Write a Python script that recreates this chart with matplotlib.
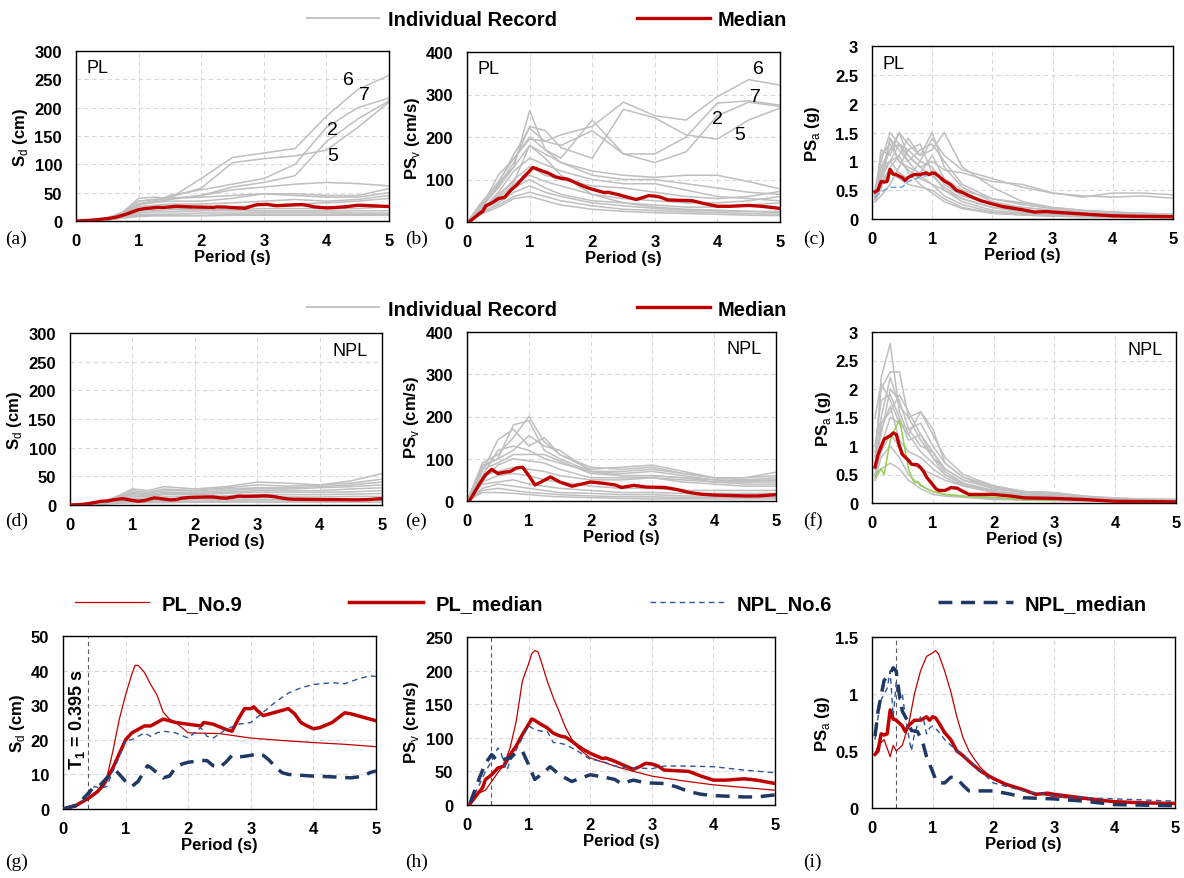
import numpy as np
import matplotlib
matplotlib.use("Agg")
import matplotlib.pyplot as plt
from matplotlib.lines import Line2D
from matplotlib.ticker import FormatStrFormatter

plt.rcParams['font.family'] = ['Liberation Sans', 'DejaVu Sans']
plt.rcParams['mathtext.fontset'] = 'custom'
plt.rcParams['mathtext.rm'] = 'Liberation Sans'
plt.rcParams['mathtext.bf'] = 'Liberation Sans:bold'

# ---------------- data ----------------
# period grids used for the individual records
t_rec = [0, 0.25, 0.5, 0.75, 1.0, 1.25, 1.5, 2.0, 2.5, 3.0, 3.5, 4.0, 4.5, 5.0]
t_psa = [0.05, 0.15, 0.3, 0.45, 0.6, 0.8, 1.0, 1.2, 1.5, 2.0, 2.5, 3.0, 3.5, 4.0, 4.5, 5.0]

# PL individual records
pl_sd_recs = [
    [0, 1, 5, 15, 35, 38, 40, 75, 112, 120, 128, 185, 232, 257],
    [0, 1, 4, 12, 30, 35, 42, 58, 103, 110, 115, 125, 165, 210],
    [0, 1, 5, 14, 30, 35, 45, 55, 65, 75, 100, 165, 200, 217],
    [0, 1, 4, 13, 28, 33, 38, 45, 60, 68, 80, 140, 180, 212],
    [0, 1, 5, 16, 40, 42, 40, 45, 55, 60, 65, 68, 66, 62],
    [0, 1, 5, 15, 35, 38, 40, 42, 45, 48, 48, 45, 45, 57],
    [0, 1, 4, 14, 30, 33, 35, 35, 40, 48, 45, 42, 42, 50],
    [0, 1, 4, 12, 25, 28, 30, 30, 32, 35, 38, 35, 38, 45],
    [0, 1, 3, 10, 20, 22, 22, 22, 25, 28, 30, 32, 35, 40],
    [0, 1, 3, 9, 18, 19, 20, 20, 20, 22, 22, 22, 22, 25],
    [0, 1, 3, 8, 15, 16, 16, 18, 18, 18, 18, 18, 18, 18],
    [0, 1, 2, 7, 12, 12, 12, 14, 14, 15, 15, 15, 14, 14],
    [0, 1, 2, 6, 10, 10, 10, 10, 11, 12, 12, 12, 12, 12],
    [0, 0.5, 2, 5, 8, 9, 9, 9, 10, 10, 10, 10, 10, 10],
]
pl_psv_recs = [
    [0, 45, 95, 150, 195, 190, 205, 225, 282, 250, 240, 295, 335, 322],
    [0, 40, 85, 140, 225, 215, 175, 150, 265, 245, 205, 195, 240, 268],
    [0, 38, 80, 130, 262, 170, 150, 240, 160, 140, 165, 250, 282, 272],
    [0, 35, 90, 160, 220, 190, 180, 215, 160, 160, 200, 280, 285, 275],
    [0, 40, 110, 150, 200, 170, 140, 120, 110, 105, 110, 110, 95, 78],
    [0, 50, 90, 130, 180, 160, 140, 110, 100, 100, 90, 80, 70, 65],
    [0, 30, 70, 120, 150, 135, 120, 100, 90, 90, 75, 60, 55, 50],
    [0, 35, 60, 100, 130, 110, 100, 85, 80, 70, 60, 55, 60, 72],
    [0, 25, 55, 90, 110, 95, 85, 65, 55, 50, 45, 45, 50, 60],
    [0, 30, 50, 80, 100, 80, 65, 50, 45, 40, 35, 35, 40, 45],
    [0, 20, 45, 70, 85, 70, 60, 45, 38, 32, 28, 26, 25, 25],
    [0, 25, 40, 60, 70, 60, 50, 38, 30, 27, 24, 22, 20, 18],
    [0, 20, 35, 55, 60, 50, 40, 30, 25, 22, 20, 18, 16, 15],
    [0, 30, 65, 95, 180, 150, 110, 65, 45, 35, 30, 28, 25, 22],
]
pl_psa_recs = [
    [0.45, 0.9, 1.2, 1.5, 1.1, 0.9, 1.0, 0.85, 0.8, 0.65, 0.6, 0.45, 0.38, 0.45, 0.45, 0.42],
    [0.4, 0.8, 1.0, 1.3, 1.2, 1.0, 1.4, 1.1, 0.85, 0.7, 0.55, 0.45, 0.4, 0.38, 0.4, 0.36],
    [0.35, 1.2, 1.1, 1.5, 1.3, 1.1, 1.2, 1.5, 0.9, 0.55, 0.3, 0.2, 0.15, 0.12, 0.1, 0.08],
    [0.45, 0.7, 1.4, 1.2, 1.0, 1.2, 1.3, 1.0, 0.6, 0.35, 0.25, 0.18, 0.12, 0.1, 0.08, 0.07],
    [0.3, 0.6, 0.9, 1.1, 1.4, 1.1, 1.5, 0.9, 0.55, 0.3, 0.2, 0.15, 0.1, 0.08, 0.07, 0.06],
    [0.4, 0.5, 1.4, 1.0, 0.9, 0.8, 1.1, 0.7, 0.5, 0.35, 0.28, 0.2, 0.15, 0.12, 0.1, 0.08],
    [0.35, 0.9, 1.0, 0.8, 0.7, 1.0, 0.9, 0.6, 0.4, 0.25, 0.2, 0.15, 0.1, 0.08, 0.06, 0.05],
    [0.5, 1.1, 1.3, 1.0, 0.85, 0.7, 0.6, 0.5, 0.35, 0.2, 0.12, 0.08, 0.06, 0.05, 0.04, 0.03],
    [0.3, 0.4, 0.6, 0.9, 1.2, 1.3, 0.8, 0.5, 0.3, 0.15, 0.1, 0.07, 0.05, 0.04, 0.03, 0.03],
    [0.4, 0.8, 1.2, 1.3, 1.0, 0.75, 0.6, 0.4, 0.25, 0.12, 0.08, 0.06, 0.05, 0.04, 0.03, 0.03],
    [0.3, 0.6, 0.8, 0.7, 0.6, 0.55, 0.5, 0.35, 0.2, 0.1, 0.07, 0.05, 0.04, 0.03, 0.03, 0.02],
    [0.35, 0.7, 1.0, 1.1, 0.8, 0.6, 0.45, 0.3, 0.18, 0.1, 0.07, 0.05, 0.04, 0.04, 0.03, 0.03],
    [0.45, 1.0, 1.5, 1.3, 1.1, 0.9, 0.75, 0.55, 0.35, 0.2, 0.15, 0.1, 0.08, 0.06, 0.05, 0.04],
]

# NPL individual records
npl_sd_recs = [
    [0, 1, 5, 15, 28, 25, 32, 28, 32, 40, 38, 35, 42, 55],
    [0, 1, 5, 14, 25, 22, 28, 25, 30, 35, 33, 35, 38, 45],
    [0, 1, 4, 12, 22, 20, 25, 25, 28, 30, 30, 32, 35, 40],
    [0, 1, 4, 12, 20, 18, 22, 22, 25, 28, 28, 30, 32, 35],
    [0, 1, 3, 10, 18, 16, 20, 20, 22, 25, 25, 25, 28, 30],
    [0, 1, 3, 9, 15, 15, 18, 18, 20, 22, 22, 22, 23, 25],
    [0, 1, 3, 8, 12, 12, 14, 15, 16, 18, 18, 18, 19, 20],
    [0, 1, 2, 6, 10, 10, 10, 12, 12, 13, 14, 14, 15, 15],
    [0, 1, 2, 5, 8, 8, 8, 9, 9, 10, 10, 10, 10, 10],
    [0, 0.5, 2, 4, 6, 6, 6, 6, 7, 7, 7, 7, 8, 8],
    [0, 0.5, 1, 3, 4, 4, 4, 5, 5, 5, 5, 5, 5, 5],
]
npl_psv_recs = [
    [0, 90, 110, 150, 200, 140, 110, 75, 80, 85, 70, 55, 55, 68],
    [0, 70, 145, 170, 130, 150, 110, 80, 75, 80, 65, 55, 55, 60],
    [0, 80, 100, 180, 190, 120, 100, 70, 70, 75, 65, 55, 50, 55],
    [0, 60, 120, 130, 120, 100, 90, 70, 60, 60, 55, 50, 48, 50],
    [0, 75, 90, 110, 110, 110, 95, 65, 60, 60, 55, 45, 45, 45],
    [0, 50, 85, 100, 95, 90, 75, 55, 55, 55, 50, 45, 40, 40],
    [0, 60, 70, 80, 75, 70, 60, 50, 50, 55, 45, 40, 35, 35],
    [0, 45, 60, 65, 60, 50, 45, 35, 30, 30, 25, 25, 25, 25],
    [0, 40, 45, 50, 40, 35, 30, 25, 20, 20, 18, 18, 18, 18],
    [0, 30, 40, 35, 30, 25, 20, 18, 15, 15, 12, 12, 12, 12],
    [0, 25, 30, 25, 20, 18, 15, 12, 10, 10, 8, 8, 8, 8],
    [0, 20, 20, 18, 15, 12, 10, 8, 6, 5, 5, 5, 5, 5],
    [0, 85, 100, 120, 155, 130, 120, 70, 65, 70, 60, 50, 45, 50],
]
npl_psa_recs = [
    [0.6, 2.2, 2.8, 1.6, 1.2, 0.9, 0.7, 0.5, 0.35, 0.2, 0.15, 0.12, 0.08, 0.06, 0.05, 0.05],
    [0.8, 2.0, 2.3, 2.3, 1.5, 1.1, 0.8, 0.6, 0.4, 0.25, 0.18, 0.15, 0.1, 0.07, 0.06, 0.05],
    [0.9, 1.5, 2.2, 1.7, 1.5, 1.6, 1.2, 0.8, 0.5, 0.3, 0.2, 0.15, 0.1, 0.08, 0.06, 0.06],
    [1.5, 2.1, 1.8, 1.4, 1.3, 1.4, 1.0, 0.7, 0.45, 0.25, 0.2, 0.18, 0.12, 0.09, 0.07, 0.06],
    [0.7, 1.2, 2.0, 1.8, 1.3, 1.0, 0.9, 0.6, 0.4, 0.28, 0.2, 0.18, 0.12, 0.08, 0.07, 0.06],
    [0.5, 1.0, 1.5, 1.4, 1.2, 1.6, 1.3, 0.7, 0.45, 0.3, 0.2, 0.18, 0.1, 0.08, 0.06, 0.05],
    [0.6, 1.3, 1.7, 1.1, 0.9, 0.8, 0.6, 0.45, 0.3, 0.2, 0.15, 0.12, 0.09, 0.07, 0.05, 0.05],
    [0.5, 0.9, 1.2, 1.0, 0.7, 0.6, 0.5, 0.4, 0.3, 0.18, 0.12, 0.1, 0.07, 0.05, 0.04, 0.04],
    [0.4, 0.8, 1.0, 0.8, 0.5, 0.3, 0.2, 0.15, 0.12, 0.08, 0.06, 0.05, 0.04, 0.03, 0.03, 0.03],
    [0.4, 0.6, 0.7, 0.6, 0.4, 0.25, 0.15, 0.12, 0.1, 0.06, 0.05, 0.04, 0.03, 0.03, 0.02, 0.02],
    [1.0, 1.8, 1.9, 1.5, 1.1, 1.2, 0.9, 0.55, 0.35, 0.22, 0.15, 0.12, 0.08, 0.06, 0.05, 0.04],
    [0.6, 1.4, 1.6, 1.9, 1.6, 1.2, 0.8, 0.5, 0.32, 0.2, 0.15, 0.12, 0.08, 0.06, 0.05, 0.04],
]

# highlighted single records in (c) and (f)
pl_blue_t = [0.05, 0.1, 0.2, 0.3, 0.5, 0.6, 0.8, 1.0]
pl_blue = [0.38, 0.42, 0.5, 0.55, 0.55, 0.65, 0.73, 0.77]
npl_green_t = [0.05, 0.1, 0.15, 0.2, 0.25, 0.3, 0.4, 0.45, 0.5, 0.55, 0.6, 0.65, 0.7, 0.75,
               0.8, 0.9, 1.0, 1.2, 1.5, 2.0, 2.5, 3.0]
npl_green = [0.45, 0.55, 0.6, 0.5, 0.8, 1.1, 1.35, 1.45, 1.2, 0.9, 0.6, 0.45, 0.35, 0.38,
             0.32, 0.25, 0.2, 0.15, 0.12, 0.1, 0.06, 0.05]

# medians and selected records (Sd, cm)
pl_med_sd_t = [0, 0.2, 0.4, 0.55, 0.65, 0.8, 0.9, 1.0, 1.1, 1.2, 1.3, 1.4, 1.5, 1.6, 1.7, 1.8, 2.0,
               2.2, 2.25, 2.4, 2.6, 2.7, 2.8, 2.9, 3.0, 3.05, 3.1, 3.2, 3.3, 3.5, 3.6, 3.7, 3.8,
               3.9, 4.0, 4.1, 4.3, 4.5, 4.6, 4.8, 5.0]
pl_med_sd = [0, 1, 3, 5, 7, 12, 16, 20, 22, 23, 24, 24, 25, 26, 25.5, 25, 24.5, 24, 25, 24.5,
             23, 22.5, 26, 29, 29, 29.5, 28.5, 27, 27.5, 28.5, 29, 27.5, 25, 24, 23.2, 23.5, 25,
             27.8, 27.5, 26.5, 25.5]
pl_no9_sd_t = [0, 0.2, 0.4, 0.6, 0.7, 0.8, 0.9, 1.0, 1.1, 1.15, 1.2, 1.3, 1.4, 1.5, 1.6, 1.7,
               1.8, 1.9, 2.0, 2.5, 3.0, 3.5, 4.0, 4.5, 5.0]
pl_no9_sd = [0, 0.5, 3, 6, 9, 17, 26, 33, 39, 41.5, 41.5, 39.5, 36, 33, 28, 26, 25, 23.5, 22,
             21.8, 20.5, 19.8, 19.2, 18.7, 18]
npl_no6_sd_t = [0, 0.2, 0.4, 0.5, 0.6, 0.7, 0.8, 0.9, 1.0, 1.1, 1.2, 1.3, 1.4, 1.5, 1.6, 1.8,
                2.0, 2.2, 2.3, 2.4, 2.6, 2.8, 3.0, 3.2, 3.4, 3.6, 3.8, 4.0, 4.3, 4.5, 4.7, 4.9, 5.0]
npl_no6_sd = [0, 1, 3.5, 6.5, 6, 6.5, 11, 15, 20, 20, 21, 22, 21, 22, 22.5, 22, 20.5, 23.5, 21,
              20.5, 23, 24.5, 25, 28, 31, 33.5, 35, 36, 36.5, 36.2, 37.5, 38.5, 38.3]
npl_med_sd_t = [0, 0.2, 0.3, 0.4, 0.5, 0.6, 0.7, 0.8, 0.85, 0.9, 1.0, 1.1, 1.2, 1.3, 1.35, 1.4,
                1.5, 1.6, 1.7, 1.8, 1.9, 2.0, 2.2, 2.3, 2.4, 2.5, 2.6, 2.7, 2.8, 3.0, 3.1, 3.2,
                3.3, 3.4, 3.5, 3.6, 4.0, 4.3, 4.6, 4.8, 4.9, 5.0]
npl_med_sd = [0, 1, 2.5, 4.5, 6.5, 7, 9, 10.5, 11, 10, 8, 6.5, 8, 11, 12.5, 12, 10.5, 9, 9.5,
              12, 13, 13.5, 14, 14, 12.5, 12, 13.5, 15.5, 15, 15.5, 16, 15.5, 14, 12, 10.5, 10,
              9.5, 9.3, 9, 9.5, 10.5, 11]

# PSv, cm/s
pl_med_psv_t = [0.05, 0.2, 0.25, 0.3, 0.4, 0.5, 0.6, 0.7, 0.8, 0.9, 1.0, 1.05, 1.1, 1.2, 1.3,
                1.4, 1.5, 1.6, 1.7, 1.8, 1.9, 2.0, 2.1, 2.2, 2.25, 2.4, 2.6, 2.7, 2.8, 2.9, 3.0,
                3.1, 3.2, 3.4, 3.6, 3.8, 4.0, 4.2, 4.5, 4.7, 5.0]
pl_med_psv = [2, 20, 25, 38, 45, 55, 58, 75, 88, 105, 120, 128, 126, 120, 115, 107, 103, 101,
              95, 88, 82, 77, 73, 69, 70, 65, 57, 53, 57, 62, 61, 58, 52, 51, 50, 43, 37, 37,
              39, 37, 32]
pl_no9_psv_t = [0.05, 0.2, 0.3, 0.4, 0.5, 0.6, 0.7, 0.8, 0.9, 1.0, 1.05, 1.1, 1.15, 1.2, 1.3,
                1.4, 1.5, 1.6, 1.7, 1.8, 2.0, 2.5, 3.0, 3.5, 4.0, 4.5, 5.0]
pl_no9_psv = [2, 18, 22, 35, 48, 60, 85, 125, 185, 210, 225, 230, 228, 215, 185, 160, 138, 115,
              98, 85, 70, 55, 43, 36, 30, 26, 22]
npl_no6_psv_t = [0.05, 0.2, 0.3, 0.4, 0.5, 0.55, 0.6, 0.65, 0.7, 0.8, 0.9, 1.0, 1.1, 1.2, 1.3,
                 1.4, 1.5, 1.6, 1.8, 2.0, 2.2, 2.4, 2.6, 2.8, 3.0, 3.2, 3.5, 4.0, 4.5, 5.0]
npl_no6_psv = [3, 30, 50, 65, 85, 80, 60, 52, 65, 82, 100, 118, 112, 110, 110, 93, 92, 90, 80,
               68, 65, 58, 55, 55, 54, 58, 58, 57, 52, 48]
npl_med_psv_t = [0.05, 0.2, 0.3, 0.4, 0.5, 0.6, 0.7, 0.8, 0.9, 1.0, 1.1, 1.2, 1.35, 1.5, 1.7,
                 2.0, 2.2, 2.4, 2.5, 2.7, 2.9, 3.2, 3.4, 3.6, 3.8, 4.0, 4.5, 4.7, 5.0]
npl_med_psv = [3, 40, 62, 75, 65, 68, 70, 78, 80, 60, 38, 45, 57, 45, 35, 45, 42, 38, 32, 37,
               33, 32, 27, 20, 16, 14, 12, 12, 15]

# PSa, g
pl_med_psa_t = [0.05, 0.1, 0.15, 0.2, 0.25, 0.3, 0.35, 0.4, 0.5, 0.55, 0.6, 0.7, 0.8, 0.9,
                0.95, 1.0, 1.05, 1.1, 1.2, 1.3, 1.4, 1.5, 1.6, 1.8, 2.0, 2.2, 2.5, 2.7, 2.9,
                3.0, 3.3, 3.6, 4.0, 4.5, 5.0]
pl_med_psa = [0.47, 0.5, 0.65, 0.64, 0.65, 0.86, 0.78, 0.77, 0.72, 0.67, 0.72, 0.77, 0.77,
              0.8, 0.77, 0.8, 0.79, 0.75, 0.66, 0.6, 0.5, 0.46, 0.41, 0.32, 0.26, 0.21, 0.16,
              0.12, 0.13, 0.12, 0.1, 0.08, 0.055, 0.045, 0.04]
pl_no9_psa_t = [0.05, 0.1, 0.2, 0.3, 0.35, 0.4, 0.5, 0.6, 0.7, 0.8, 0.9, 1.0, 1.05, 1.1, 1.2,
                1.3, 1.4, 1.5, 1.6, 1.7, 1.8, 2.0, 2.5, 3.0, 3.5, 4.0, 4.5, 5.0]
pl_no9_psa = [0.47, 0.55, 0.6, 0.45, 0.55, 0.5, 0.55, 0.72, 1.0, 1.2, 1.33, 1.36, 1.38, 1.35,
              1.2, 1.02, 0.8, 0.62, 0.5, 0.42, 0.35, 0.25, 0.15, 0.1, 0.075, 0.06, 0.05, 0.04]
npl_no6_psa_t = [0.05, 0.1, 0.15, 0.2, 0.25, 0.3, 0.35, 0.4, 0.45, 0.5, 0.55, 0.6, 0.65, 0.7,
                 0.8, 0.85, 0.9, 0.95, 1.0, 1.1, 1.2, 1.4, 1.6, 1.8, 2.0, 2.5, 3.0, 3.5, 4.0,
                 4.5, 5.0]
npl_no6_psa = [0.6, 0.8, 0.95, 1.0, 1.05, 1.2, 0.8, 1.1, 0.95, 1.0, 0.8, 0.65, 0.5, 0.65, 0.8,
               0.78, 0.65, 0.7, 0.72, 0.67, 0.6, 0.5, 0.42, 0.32, 0.22, 0.15, 0.11, 0.09, 0.08,
               0.07, 0.06]
npl_med_psa_t = [0.05, 0.1, 0.2, 0.3, 0.35, 0.4, 0.45, 0.5, 0.55, 0.6, 0.65, 0.75, 0.8, 0.85,
                 0.9, 1.0, 1.05, 1.1, 1.2, 1.3, 1.4, 1.5, 1.6, 1.8, 2.0, 2.3, 2.5, 3.0, 3.5,
                 4.0, 5.0]
npl_med_psa = [0.63, 0.85, 1.12, 1.18, 1.23, 1.2, 1.0, 0.85, 0.8, 0.75, 0.68, 0.67, 0.62, 0.55,
               0.45, 0.32, 0.25, 0.22, 0.22, 0.27, 0.26, 0.2, 0.15, 0.15, 0.15, 0.12, 0.09,
               0.08, 0.06, 0.03, 0.02]

T1 = 0.395

# ---------------- styling ----------------
GRAY = '#BFBFBF'
RED = '#C00000'
NAVY = '#1F3864'
BLUE = '#2F5597'
W, H = 1184, 879

fig = plt.figure(figsize=(W / 100, H / 100), dpi=100)


def px_axes(l, t, r, b):
    return fig.add_axes([l / W, 1 - b / H, (r - l) / W, (b - t) / H])


def style(ax, ymax, ystep, ylabel, ylab_px, left_px):
    ax.set_xlim(0, 5)
    ax.set_ylim(0, ymax)
    ax.set_xticks(range(6))
    ax.set_yticks(np.arange(0, ymax + ystep / 2, ystep))
    ax.yaxis.set_major_formatter(FormatStrFormatter('%g'))
    ax.grid(True, color='#D9D9D9', ls=(0, (4, 3)), lw=0.8)
    ax.set_axisbelow(True)
    ax.tick_params(length=0, labelsize=12)
    ax.tick_params(axis='x', pad=9)
    ax.tick_params(axis='y', pad=10)
    for lab in ax.get_xticklabels() + ax.get_yticklabels():
        lab.set_fontweight('bold')
    ax.set_xlabel('Period (s)', fontsize=12, fontweight='bold', labelpad=0.5)
    ax.set_ylabel(ylabel, fontsize=12, fontweight='bold')
    width = ax.get_position().width * W
    ax.yaxis.set_label_coords((ylab_px - left_px) / width, 0.5)
    for s in ax.spines.values():
        s.set_linewidth(1.0)
        s.set_color('black')


SD = r'S$_\mathrm{d}$ (cm)'
PSV = r'PS$_\mathrm{v}$ (cm/s)'
PSA = r'PS$_\mathrm{a}$ (g)'

# row 1 (PL) and row 2 (NPL)
rows = [
    dict(rects=[(76, 52, 389, 222), (467, 53, 780, 223), (872, 47, 1173, 220)],
         recs=[pl_sd_recs, pl_psv_recs, pl_psa_recs],
         meds=[(pl_med_sd_t, pl_med_sd), (pl_med_psv_t, pl_med_psv), (pl_med_psa_t, pl_med_psa)],
         ylab=[30, 422, 822], tag='PL', letters='abc', ly=239, legy=21),
    dict(rects=[(70, 334, 382, 506), (467, 333, 776, 502), (872, 333, 1176, 504)],
         recs=[npl_sd_recs, npl_psv_recs, npl_psa_recs],
         meds=[(npl_med_sd_t, npl_med_sd), (npl_med_psv_t, npl_med_psv), (npl_med_psa_t, npl_med_psa)],
         ylab=[24, 421, 833], tag='NPL', letters='def', ly=521, legy=310),
]
limits = [(300, 50, SD), (400, 100, PSV), (3, 0.5, PSA)]
letter_x = [5, 405, 803]

for row in rows:
    for k in range(3):
        l, t, r, b = row['rects'][k]
        ax = px_axes(l, t, r, b)
        tgrid = t_psa if k == 2 else t_rec
        for rec in row['recs'][k]:
            ax.plot(tgrid, rec, color=GRAY, lw=1.1, zorder=2)
        if k == 2 and row['tag'] == 'PL':
            ax.plot(pl_blue_t, pl_blue, color='#6FA8DC', lw=1.1, ls=(0, (4, 2)), zorder=3)
        if k == 2 and row['tag'] == 'NPL':
            ax.plot(npl_green_t, npl_green, color='#92D050', lw=1.1, zorder=3)
        mt, mv = row['meds'][k]
        ax.plot(mt, mv, color=RED, lw=2.4, zorder=4)
        ymax, ystep, ylab = limits[k]
        style(ax, ymax, ystep, ylab, row['ylab'][k], l)
        if row['tag'] == 'PL':
            ax.text(0.035, 0.95, 'PL', transform=ax.transAxes, fontsize=13, va='top', ha='left')
        else:
            ax.text(0.955, 0.95, 'NPL', transform=ax.transAxes, fontsize=13, va='top', ha='right')
        fig.text(letter_x[k] / W, 1 - row['ly'] / H, '(%s)' % row['letters'][k],
                 fontsize=14, family='Liberation Serif', va='center', ha='left')
        if row['tag'] == 'PL' and k == 0:
            for s, (x, y) in zip('6725', [(4.36, 249), (4.6, 224), (4.1, 161), (4.1, 115)]):
                ax.text(x, y, s, fontsize=14, ha='center', va='center', zorder=5)
        if row['tag'] == 'PL' and k == 1:
            for s, (x, y) in zip('6725', [(4.65, 361), (4.6, 295), (4.0, 243), (4.36, 206)]):
                ax.text(x, y, s, fontsize=14, ha='center', va='center', zorder=5)

    handles = [Line2D([], [], color=GRAY, lw=1.3), Line2D([], [], color=RED, lw=2.4)]
    fig.legend(handles, ['Individual Record', 'Median'], loc='center', ncol=2,
               bbox_to_anchor=(547 / W, 1 - row['legy'] / H), frameon=False,
               prop={'size': 14.5, 'weight': 'bold'}, handlelength=3.6,
               handletextpad=0.4, columnspacing=4.0)

# row 3 comparison
rects3 = [(63, 637, 376, 810), (467, 638, 775, 806), (872, 638, 1175, 809)]
data3 = [
    [(pl_no9_sd_t, pl_no9_sd), (pl_med_sd_t, pl_med_sd), (npl_no6_sd_t, npl_no6_sd), (npl_med_sd_t, npl_med_sd)],
    [(pl_no9_psv_t, pl_no9_psv), (pl_med_psv_t, pl_med_psv), (npl_no6_psv_t, npl_no6_psv), (npl_med_psv_t, npl_med_psv)],
    [(pl_no9_psa_t, pl_no9_psa), (pl_med_psa_t, pl_med_psa), (npl_no6_psa_t, npl_no6_psa), (npl_med_psa_t, npl_med_psa)],
]
lim3 = [(50, 10, SD), (250, 50, PSV), (1.5, 0.5, PSA)]
ylab3 = [27, 421, 832]
styles3 = [dict(color=RED, lw=0.9, ls='-'),
           dict(color=RED, lw=2.5, ls='-'),
           dict(color=BLUE, lw=1.0, ls=(0, (4, 3))),
           dict(color=NAVY, lw=2.5, ls=(0, (4, 2.5)))]
for k in range(3):
    l, t, r, b = rects3[k]
    ax = px_axes(l, t, r, b)
    ax.axvline(T1, color='#595959', lw=0.8, ls=(0, (4, 3)), zorder=2)
    for (xt, yv), st in zip(data3[k], styles3):
        ax.plot(xt, yv, zorder=3, **st)
    ymax, ystep, ylab = lim3[k]
    style(ax, ymax, ystep, ylab, ylab3[k], l)
    fig.text(letter_x[k] / W, 1 - 862 / H, '(%s)' % 'ghi'[k],
             fontsize=14, family='Liberation Serif', va='center', ha='left')
    if k == 0:
        ax.text(0.22, 26, r'T$_\mathbf{1}$ = 0.395 s', rotation=90, fontsize=13,
                fontweight='bold', ha='center', va='center', zorder=5)

handles3 = [Line2D([], [], **st) for st in styles3]
fig.legend(handles3, ['PL_No.9', 'PL_median', 'NPL_No.6', 'NPL_median'], loc='center',
           ncol=4, bbox_to_anchor=(611 / W, 1 - 605 / H), frameon=False,
           prop={'size': 14.5, 'weight': 'bold'}, handlelength=3.7,
           handletextpad=0.6, columnspacing=5.3)

fig.savefig('out.png', dpi=100)
